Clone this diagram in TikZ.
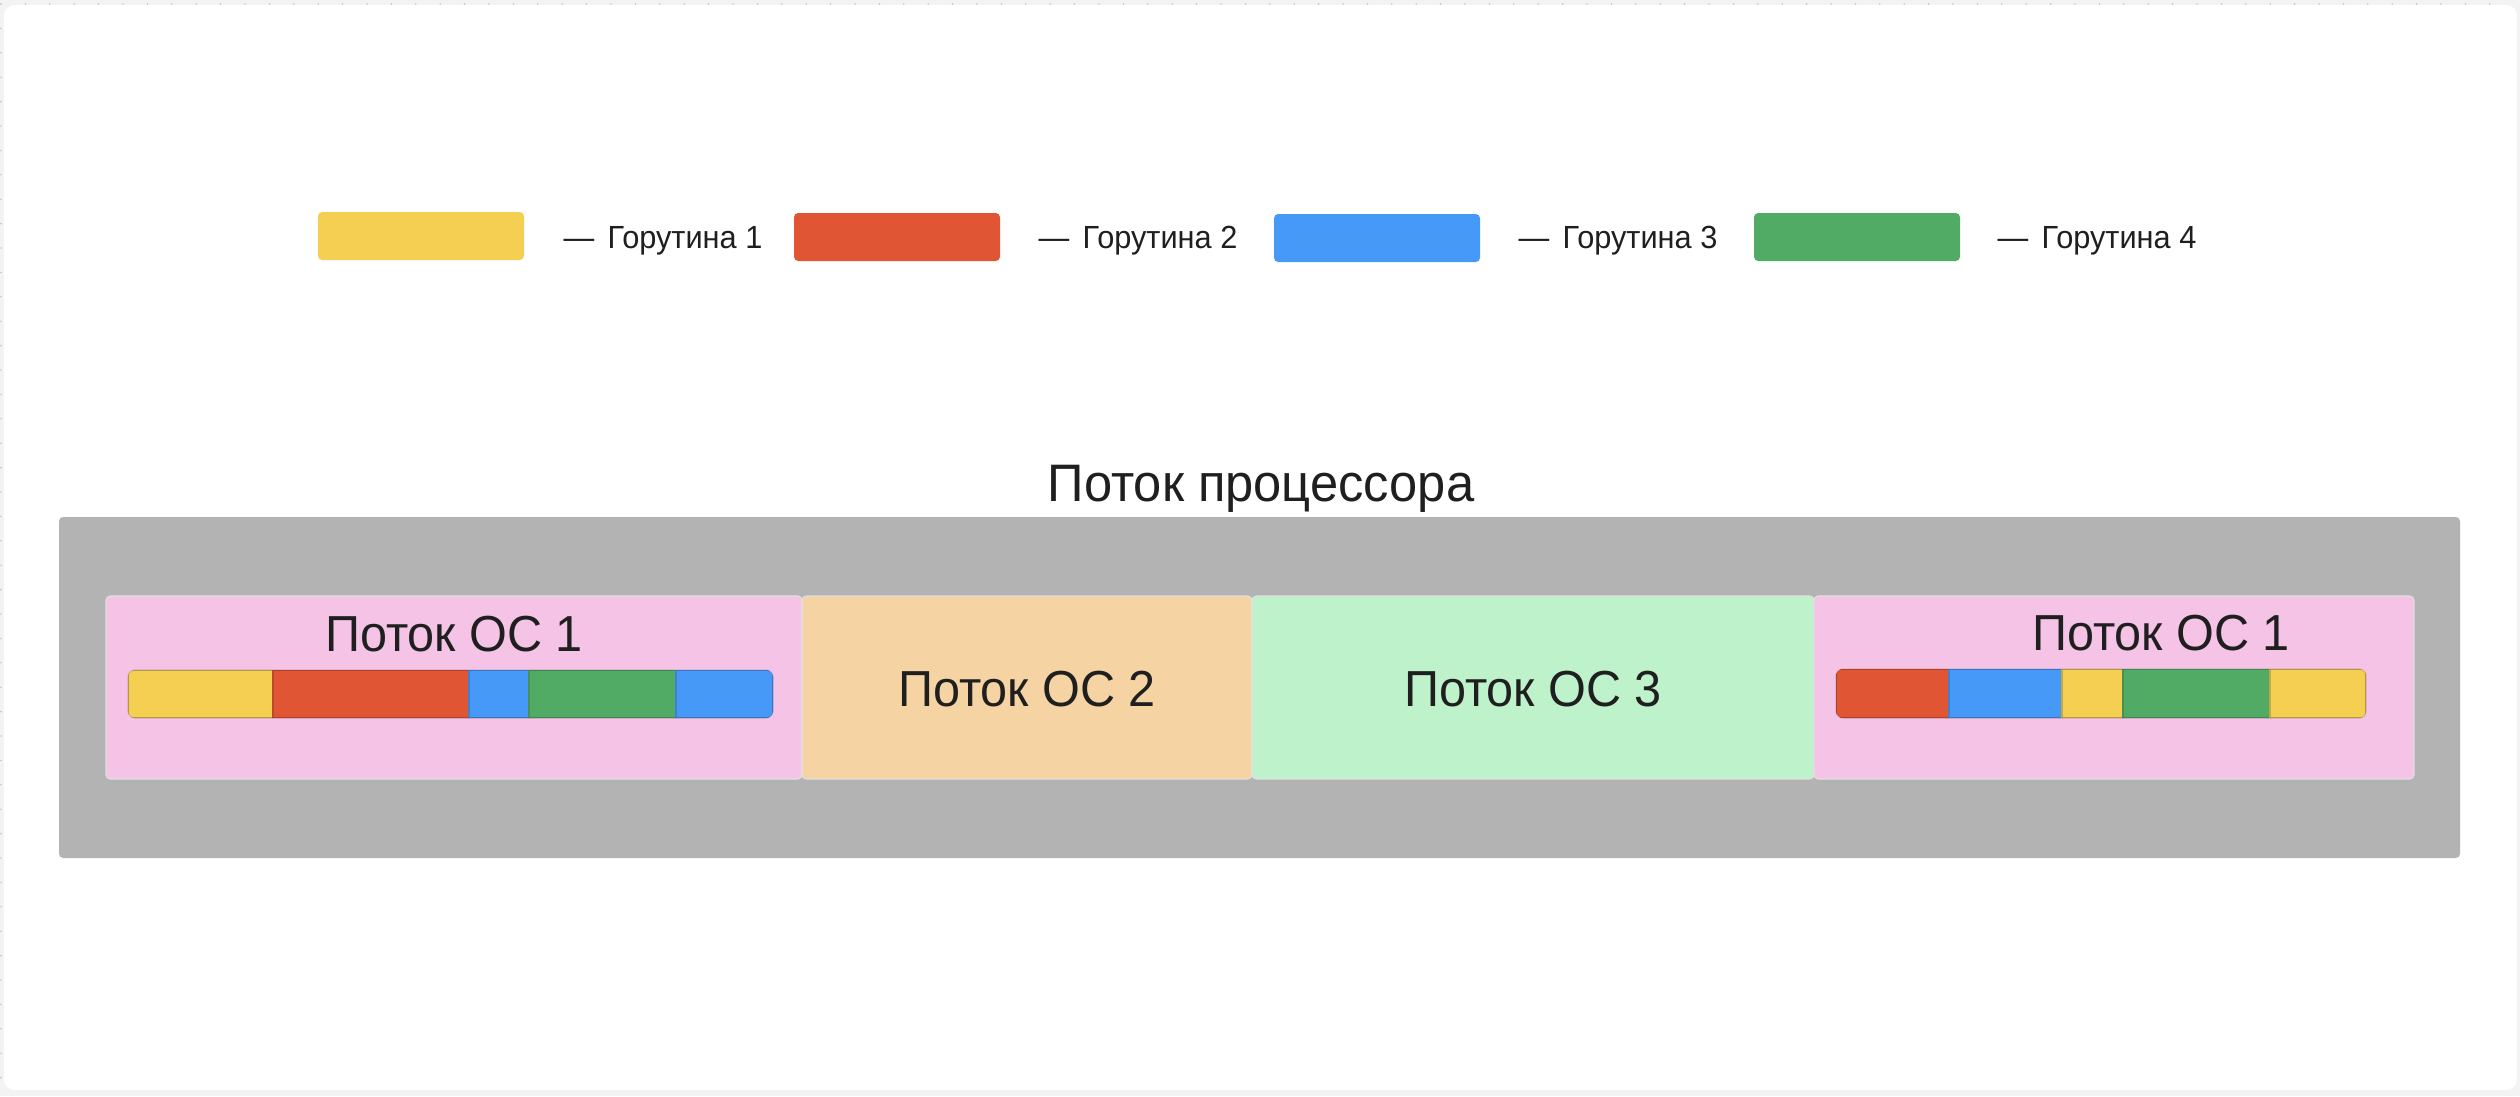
\documentclass[tikz,border=0pt]{standalone}
\usepackage{fontspec}
\setmainfont{Liberation Sans}[FakeStretch=0.96]
\definecolor{yel}{HTML}{F5CF52}
\definecolor{rd}{HTML}{E05534}
\definecolor{bl}{HTML}{4699F7}
\definecolor{gr}{HTML}{52AB65}
\definecolor{pk}{HTML}{F5C3E6}
\definecolor{org}{HTML}{F5D3A3}
\definecolor{mint}{HTML}{BEF2CB}
\definecolor{cpu}{HTML}{B3B3B3}
\definecolor{txt}{HTML}{1F1F1F}
\definecolor{pagebg}{HTML}{F3F3F3}
\begin{document}
\begin{tikzpicture}[x=0.01cm,y=-0.01cm,
  legrect/.style={rounded corners=1.2pt},
  legtext/.style={anchor=base west,inner sep=0pt,font=\fontsize{9.1pt}{11pt}\selectfont,text=txt},
  osbox/.style={rounded corners=1.2pt,draw=black!12,line width=0.3pt},
  lbl/.style={anchor=base,inner sep=0pt,font=\fontsize{14.4pt}{17pt}\selectfont,text=txt},
  seg/.style={line width=0.35pt}]
\useasboundingbox (0,0) rectangle (2520,1096);
\fill[pagebg] (0,0) rectangle (2520,1096);
\foreach \i in {0,...,102} {\fill[black!22] (\i*24.4+1,4) circle (0.9);}
\foreach \j in {0,...,44} {\fill[black!22] (1,\j*24.4+4) circle (0.9);}
\fill[white,rounded corners=3pt] (4,5) rectangle (2517,1090);

% legend
\fill[yel,legrect] (318,212) rectangle (524,260);
\node[legtext] (d1) at (563,248) {—};
\node[legtext] (l1) at (607,248) {Горутина 1};
\fill[rd,legrect] (794,213) rectangle (1000,261);
\node[legtext] (d2) at (1038,248) {—};
\node[legtext] (l2) at (1082,248) {Горутина 2};
\fill[bl,legrect] (1274,214) rectangle (1480,262);
\node[legtext] (d3) at (1518,248) {—};
\node[legtext] (l3) at (1562,248) {Горутина 3};
\fill[gr,legrect] (1754,213) rectangle (1960,261);
\node[legtext] (d4) at (1997,248) {—};
\node[legtext] (l4) at (2041,248) {Горутина 4};

% processor thread
\node[lbl,font=\fontsize{15pt}{18pt}\selectfont] (title) at (1261,501) {Поток процессора};
\fill[cpu,rounded corners=1.2pt] (59,517) rectangle (2460,858);

\filldraw[pk,osbox] (106,596) rectangle (802,779);
\filldraw[org,osbox] (802,596) rectangle (1252,779);
\filldraw[mint,osbox] (1252,596) rectangle (1814,779);
\filldraw[pk,osbox] (1814,596) rectangle (2414,779);

\node[lbl] (os1) at (454,651) {Поток ОС 1};
\node[lbl] (os2) at (1027,706) {Поток ОС 2};
\node[lbl] (os3) at (1533,706) {Поток ОС 3};
\node[lbl] (os1b) at (2161,650) {Поток ОС 1};

% bar 1
\begin{scope}
\clip[rounded corners=2pt] (128,670) rectangle (773,718);
\filldraw[yel,draw=yel!80!black,seg] (128,670) rectangle (273,718);
\filldraw[rd,draw=rd!85!black,seg] (273,670) rectangle (469,718);
\filldraw[bl,draw=bl!85!black,seg] (469,670) rectangle (529,718);
\filldraw[gr,draw=gr!85!black,seg] (529,670) rectangle (676,718);
\filldraw[bl,draw=bl!85!black,seg] (676,670) rectangle (773,718);
\end{scope}
\draw[black,opacity=0.12,line width=0.35pt,rounded corners=2pt] (128,670) rectangle (773,718);

% bar 2
\begin{scope}
\clip[rounded corners=2pt] (1836,669) rectangle (2366,718);
\filldraw[rd,draw=rd!85!black,seg] (1836,669) rectangle (1949,718);
\filldraw[bl,draw=bl!85!black,seg] (1949,669) rectangle (2062,718);
\filldraw[yel,draw=yel!80!black,seg] (2062,669) rectangle (2123,718);
\filldraw[gr,draw=gr!85!black,seg] (2123,669) rectangle (2270,718);
\filldraw[yel,draw=yel!80!black,seg] (2270,669) rectangle (2366,718);
\end{scope}
\draw[black,opacity=0.12,line width=0.35pt,rounded corners=2pt] (1836,669) rectangle (2366,718);
\end{tikzpicture}
\end{document}
